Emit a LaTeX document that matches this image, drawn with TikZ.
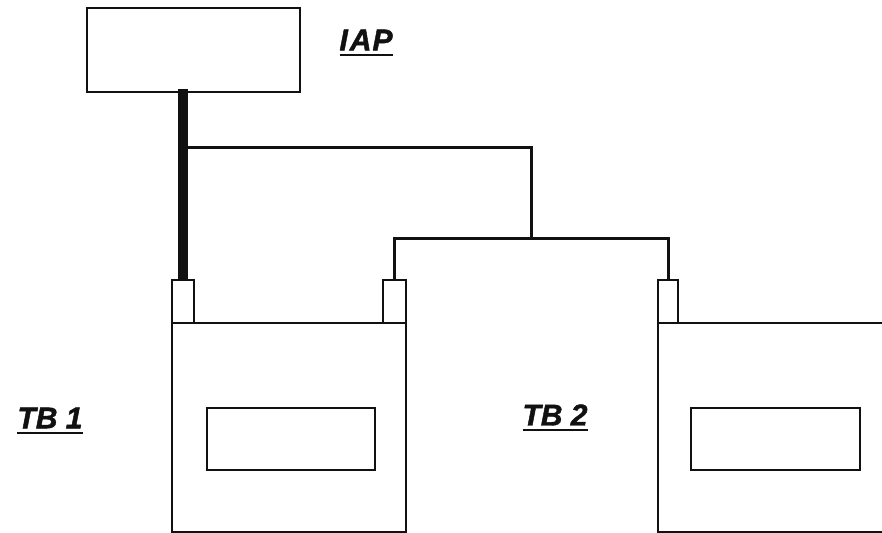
\documentclass[tikz,border=0pt]{standalone}
\usepackage{fontspec}
\setmainfont{Liberation Sans}
\usetikzlibrary{positioning,calc}
\definecolor{cInk}{HTML}{111111}
\newcommand{\ulabel}[1]{\setbox0\hbox{#1}\rlap{\rule[-6pt]{\wd0}{2.6pt}}\box0}
\tikzset{
  box/.style={draw=cInk, fill=white, line width=2pt, inner sep=0pt, anchor=north west},
  tabbox/.style={box, minimum width=22pt, minimum height=43pt},
  wire/.style={draw=cInk, line width=3pt},
  bus/.style={draw=cInk, line width=10pt},
  tag/.style={font=\fontsize{30}{30}\selectfont\bfseries\itshape\addfontfeature{FakeBold=1.5},
              text=cInk, inner sep=0pt},
}

\begin{document}
\begin{tikzpicture}[x=1pt,y=-1pt]
\useasboundingbox (0,0) rectangle (882,532);
\clip (0,0) rectangle (882,532);

% ------------------------------------------------------------ access point
\node[box, minimum width=213pt, minimum height=84pt] (iap) at (86,7) {};
\node[tag] (iaplbl) at (366,43) {\ulabel{I\kern2pt A\kern1pt P}};

% ------------------------------------------------------------ terminal boxes
\node[box, minimum width=234pt, minimum height=209pt] (tb1) at (171,322) {};
\node[box, minimum width=240pt, minimum height=209pt] (tb2) at (657,322) {};

\node[box, minimum width=168pt, minimum height=62pt] (scr1) at (206,407) {};
\node[box, minimum width=169pt, minimum height=62pt] (scr2) at (690,407) {};

\node[tabbox] (tabA) at (171,279) {};
\node[tabbox, minimum width=23pt] (tabB) at (382,279) {};
\node[tabbox, minimum width=20pt] (tabC) at (657,279) {};

\node[tag] (tb1lbl) at (50,421) {\ulabel{TB 1}};
\node[tag] (tb2lbl) at (555,418) {\ulabel{TB 2}};

% ------------------------------------------------------------ cabling
\coordinate (split) at (tabA.north |- 0,147);
\coordinate (junc) at (531,238);

\draw[wire] (split) -| (junc);
\draw[wire] (tabB.north) |- (junc) -| (tabC.north);
\draw[bus] (tabA.north |- iap.south) ++(0,-4) -- (tabA.north);

\end{tikzpicture}
\end{document}
